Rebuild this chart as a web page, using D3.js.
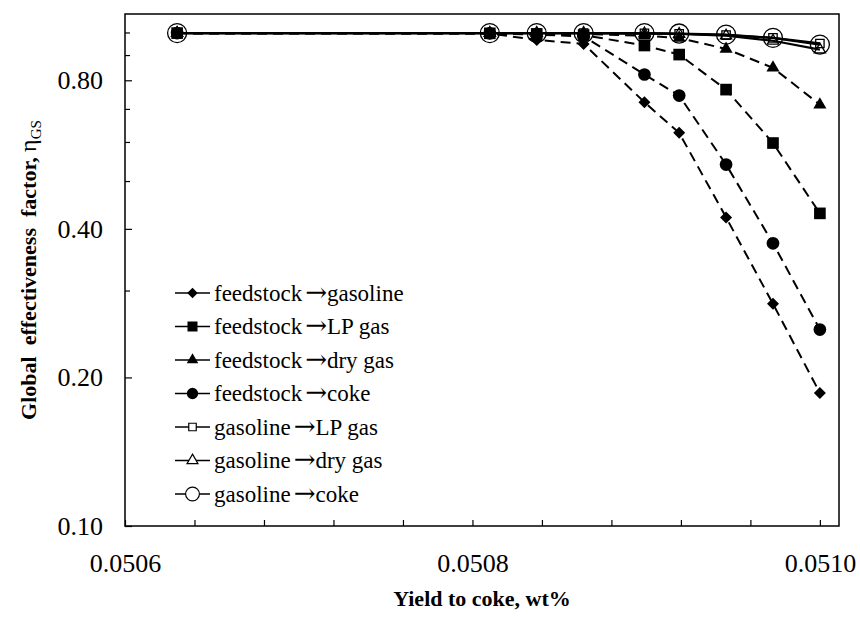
<!DOCTYPE html>
<html>
<head>
<meta charset="utf-8">
<script src="https://cdn.jsdelivr.net/npm/d3@7"></script>
<style>
  html, body { margin: 0; padding: 0; background: #fff; }
  svg { display: block; font-family: "Liberation Serif", "Times New Roman", serif; }
  svg text { font-family: "Liberation Serif", "Times New Roman", serif; }
  svg text tspan.arrow { font-family: "DejaVu Serif", serif; }
</style>
</head>
<body>
<svg id="chart" width="860" height="617"></svg>
<script>
// Yield to coke (wt%) at each simulated point
const cokeYield = [0.05063, 0.05081, 0.050837, 0.050864, 0.050899, 0.050919, 0.050946, 0.050973, 0.05100];

// Global effectiveness factor for each reaction
const feedstockToGasoline = [0.997, 0.995, 0.966, 0.948, 0.722, 0.626, 0.422, 0.282, 0.186];
const feedstockToLPGas    = [0.997, 0.996, 0.993, 0.988, 0.941, 0.902, 0.766, 0.597, 0.430];
const feedstockToDryGas   = [0.997, 0.996, 0.995, 0.993, 0.985, 0.975, 0.926, 0.848, 0.714];
const feedstockToCoke     = [0.997, 0.996, 0.990, 0.982, 0.822, 0.745, 0.540, 0.374, 0.250];
const gasolineToLPGas     = [0.997, 0.997, 0.997, 0.997, 0.996, 0.994, 0.988, 0.975, 0.950];
const gasolineToDryGas    = [0.997, 0.997, 0.997, 0.997, 0.995, 0.993, 0.985, 0.962, 0.923];
const gasolineToCoke      = [0.997, 0.997, 0.997, 0.997, 0.997, 0.995, 0.990, 0.975, 0.945];

// Axis ticks
const xMajorTicks = [0.0506, 0.0508, 0.0510];
const xMinorTicks = d3.range(11).map(i => 0.0506 + i * 0.00004);
const yMajorTicks = [0.10, 0.20, 0.40, 0.80];
const yMinorTicks = [0.3, 0.5, 0.6, 0.7, 0.9, 1.0];

const seriesNames = [
  ["feedstock", "gasoline"],
  ["feedstock", "LP gas"],
  ["feedstock", "dry gas"],
  ["feedstock", "coke"],
  ["gasoline", "LP gas"],
  ["gasoline", "dry gas"],
  ["gasoline", "coke"]
];
const seriesValues = [feedstockToGasoline, feedstockToLPGas, feedstockToDryGas, feedstockToCoke,
                      gasolineToLPGas, gasolineToDryGas, gasolineToCoke];

// marker shapes
const diamond = {
  draw(ctx, size) {
    const r = Math.sqrt(size / 2);
    ctx.moveTo(0, -r); ctx.lineTo(r, 0); ctx.lineTo(0, r); ctx.lineTo(-r, 0); ctx.closePath();
  }
};
const style = [
  { shape: diamond,           size: 72,  fill: "#000", dashed: true,  lsize: 56 },
  { shape: d3.symbolSquare,   size: 136, fill: "#000", dashed: true,  lsize: 100 },
  { shape: d3.symbolTriangle, size: 74,  fill: "#000", dashed: true,  lsize: 58 },
  { shape: d3.symbolCircle,   size: 127, fill: "#000", dashed: true,  lsize: 100 },
  { shape: d3.symbolSquare,   size: 70,  fill: "none", dashed: false, lsize: 56 },
  { shape: d3.symbolTriangle, size: 55,  fill: "none", dashed: false, lsize: 52 },
  { shape: d3.symbolCircle,   size: 285, fill: "none", dashed: false, lsize: 150 }
];

const svg = d3.select("#chart");
const plotLeft = 125, plotRight = 839, plotTop = 14, plotBottom = 526;

const x = d3.scaleLinear().domain([0.0506, 0.051011]).range([plotLeft, plotRight]);
const y = d3.scaleLog().domain([0.1, 1.09]).range([plotBottom, plotTop]);

const serif = '"Liberation Serif", "Times New Roman", serif';

// inward tick marks
svg.append("g").attr("transform", `translate(0,${plotBottom})`)
  .call(d3.axisBottom(x).tickValues(xMinorTicks).tickSize(-6).tickSizeOuter(0).tickFormat(""))
  .call(g => g.select(".domain").remove())
  .selectAll("line").attr("stroke", "#000").attr("stroke-width", 1.2);

svg.append("g").attr("transform", `translate(${plotLeft},0)`)
  .call(d3.axisLeft(y).tickValues(yMinorTicks).tickSize(-5).tickSizeOuter(0).tickFormat(""))
  .call(g => g.select(".domain").remove())
  .selectAll("line").attr("stroke", "#000").attr("stroke-width", 1.2);

svg.append("g").attr("transform", `translate(${plotLeft},0)`)
  .call(d3.axisLeft(y).tickValues(yMajorTicks).tickSize(-7).tickSizeOuter(0).tickPadding(22)
    .tickFormat(d3.format(".2f")))
  .attr("font-family", serif)
  .call(g => g.select(".domain").remove())
  .call(g => g.selectAll("line").attr("stroke", "#000").attr("stroke-width", 1.2))
  .call(g => g.selectAll("text").attr("font-size", 26).attr("fill", "#000").attr("font-family", serif));

svg.append("g").attr("transform", `translate(0,${plotBottom})`)
  .call(d3.axisBottom(x).tickValues(xMajorTicks).tickSize(0).tickSizeOuter(0).tickPadding(28)
    .tickFormat(d3.format(".4f")))
  .attr("font-family", serif)
  .call(g => g.select(".domain").remove())
  .call(g => g.selectAll("text").attr("font-size", 26).attr("fill", "#000").attr("font-family", serif));

// frame
svg.append("rect")
  .attr("x", plotLeft).attr("y", plotTop)
  .attr("width", plotRight - plotLeft).attr("height", plotBottom - plotTop)
  .attr("fill", "none").attr("stroke", "#000").attr("stroke-width", 1.5);

// series lines
const line = d3.line().x((d, i) => x(cokeYield[i])).y(d => y(d));
const plot = svg.append("g");
seriesValues.forEach((vals, k) => {
  plot.append("path")
    .attr("d", line(vals))
    .attr("fill", "none")
    .attr("stroke", "#000")
    .attr("stroke-width", style[k].dashed ? 2 : 2.2)
    .attr("stroke-dasharray", style[k].dashed ? "10,6" : null);
});
seriesValues.forEach((vals, k) => {
  const s = style[k];
  plot.selectAll(null).data(vals).enter().append("path")
    .attr("transform", (d, i) => `translate(${x(cokeYield[i])},${y(d)})`)
    .attr("d", d3.symbol().type(s.shape).size(s.size))
    .attr("fill", s.fill)
    .attr("stroke", "#000")
    .attr("stroke-width", s.fill === "none" ? 1.3 : 0);
});

// legend
const legend = svg.append("g").attr("transform", "translate(175,293)");
seriesNames.forEach((nm, k) => {
  const s = style[k];
  const g = legend.append("g").attr("transform", `translate(0,${k * 33.5})`);
  g.append("line").attr("x1", 0).attr("x2", 35).attr("y1", 0).attr("y2", 0)
    .attr("stroke", "#000").attr("stroke-width", 1.6);
  g.append("path").attr("transform", "translate(17.5,0)")
    .attr("d", d3.symbol().type(s.shape).size(s.lsize))
    .attr("fill", s.fill === "none" ? "#fff" : "#000")
    .attr("stroke", "#000").attr("stroke-width", s.fill === "none" ? 1.2 : 0);
  const t = g.append("text").attr("x", 39).attr("y", 7.5).attr("font-size", 23).attr("fill", "#000");
  t.append("tspan").text(nm[0]);
  t.append("tspan").attr("class", "arrow").attr("dx", 3).attr("font-size", 26).text("\u2192");
  t.append("tspan").text(nm[1]);
});

// axis titles
svg.append("text")
  .attr("x", (plotLeft + plotRight) / 2).attr("y", 606)
  .attr("text-anchor", "middle").attr("font-size", 22).attr("font-weight", "bold")
  .text("Yield to coke, wt%");

const yt = svg.append("text")
  .attr("transform", `translate(36,${(plotTop + plotBottom) / 2}) rotate(-90)`)
  .attr("text-anchor", "middle").attr("font-size", 22).attr("font-weight", "bold")
  .style("white-space", "pre");
yt.append("tspan").text("Global  effectiveness  factor, ");
yt.append("tspan").attr("font-weight", "normal").attr("font-size", 24).text("\u03b7");
yt.append("tspan").attr("font-size", 15).attr("dy", 5).attr("font-weight", "normal").text("GS");
</script>
</body>
</html>
